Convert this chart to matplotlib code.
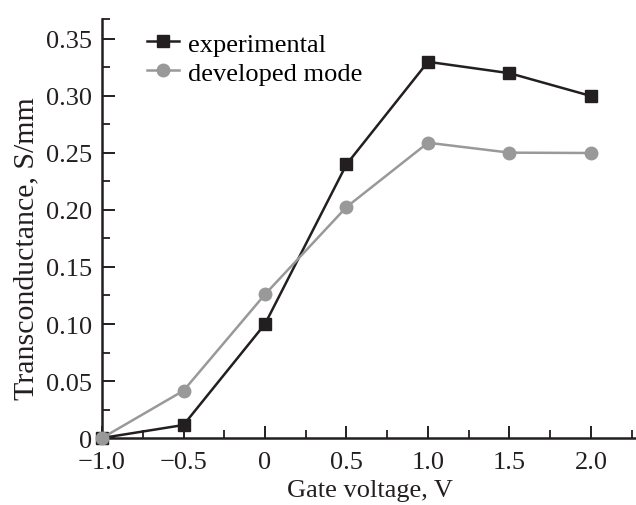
import numpy as np
import matplotlib.pyplot as plt
from matplotlib.ticker import FixedLocator

plt.rcParams['font.family'] = ['Liberation Serif', 'DejaVu Serif']

gate_v = [-1.0, -0.5, 0.0, 0.5, 1.0, 1.5, 2.0]
experimental = [0.0, 0.0114, 0.10, 0.240, 0.330, 0.320, 0.300]
developed = [0.0, 0.0415, 0.126, 0.2026, 0.259, 0.2503, 0.250]

x_ticks = [-1.0, -0.5, 0.0, 0.5, 1.0, 1.5, 2.0]
x_labels = ['\u22121.0', '\u22120.5', '0', '0.5', '1.0', '1.5', '2.0']
y_ticks = [0, 0.05, 0.10, 0.15, 0.20, 0.25, 0.30, 0.35]
y_labels = ['0', '0.05', '0.10', '0.15', '0.20', '0.25', '0.30', '0.35']

fig = plt.figure(figsize=(6.36, 5.06), dpi=100)
ax = fig.add_axes([0.1604, 0.1324, 0.838, 0.828])

black = '#231f20'
gray = '#999999'
ax.plot(gate_v, experimental, '-s', color=black, lw=1.8, ms=9, label='experimental', clip_on=False, zorder=3)
ax.plot(gate_v, developed, '-o', color=gray, lw=1.8, ms=9, label='developed mode', clip_on=False, zorder=3)

ax.set_xlim(-1.0, 2.27)
ax.set_ylim(0, 0.3675)
ax.set_xticks(x_ticks)
ax.set_xticklabels(x_labels)
ax.set_yticks(y_ticks)
ax.set_yticklabels(y_labels)
ax.xaxis.set_minor_locator(FixedLocator([-0.75, -0.25, 0.25, 0.75, 1.25, 1.75, 2.25]))
ax.yaxis.set_minor_locator(FixedLocator([0.025, 0.075, 0.125, 0.175, 0.225, 0.275, 0.325, 0.3675]))

for s in ['top', 'right']:
    ax.spines[s].set_visible(False)
for s in ['left', 'bottom']:
    ax.spines[s].set_linewidth(1.8)
    ax.spines[s].set_color(black)

ax.tick_params(which='major', direction='in', length=9, width=1.4, labelsize=19, colors=black)
ax.tick_params(which='minor', direction='in', length=6, width=1.3, colors=black)
ax.tick_params(axis='x', pad=9)
ax.tick_params(axis='y', pad=7)

ax.set_xlabel('Gate voltage, V', fontsize=19, color=black)
ax.set_ylabel('Transconductance, S/mm', fontsize=21.5, color=black)
ax.xaxis.set_label_coords(0.502, -0.098)
ax.yaxis.set_label_coords(-0.118, 0.455)

ax.legend(loc='upper left', bbox_to_anchor=(45 / 533, (439 - 33) / 419), frameon=False, fontsize=19,
          borderpad=0, handlelength=1.2, handletextpad=0.35, labelspacing=0.21, borderaxespad=0)

fig.savefig('out.png', dpi=100)
